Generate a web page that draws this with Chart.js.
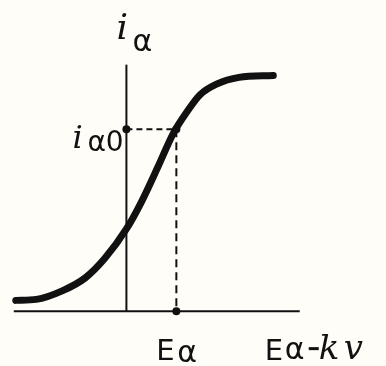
<!DOCTYPE html>
<html>
<head>
<meta charset="utf-8">
<script src="https://cdn.jsdelivr.net/npm/chart.js@4"></script>
<style>
  html, body { margin: 0; padding: 0; background: #fefdf8; }
  #wrap { width: 386px; height: 366px; position: relative; }
</style>
</head>
<body>
<div id="wrap"><canvas id="chart"></canvas></div>
<script>
// Anode current vs. grid voltage characteristic (x measured from the i axis)
const curveX = [-113, -92, -65, -42, -22, 0, 15, 32, 48, 62, 75, 92, 115, 150];
const curveY = [11, 12, 21, 34, 54, 84, 111, 147, 182, 204, 221, 232, 239, 241];

// Operating point
const opX = 51;   // E_a
const opY = 186;  // i_a0

// Axis extents
const xAxisRange = [-115, 177];
const yAxisRange = [0, 252];

const INK = '#111';

const pts = (xs, ys) => xs.map((x, i) => ({ x: x, y: ys[i] }));

// Labels drawn next to the axes
const labelsPlugin = {
    id: 'labels',
    afterDatasetsDraw(chart) {
        const ctx = chart.ctx;
        const sx = chart.scales.x, sy = chart.scales.y;
        const px = v => sx.getPixelForValue(v);
        const py = v => sy.getPixelForValue(v);
        ctx.save();
        ctx.fillStyle = INK;
        ctx.textBaseline = 'alphabetic';

        // i_a at the top of the vertical axis
        ctx.font = 'italic 36px "DejaVu Serif"';
        ctx.fillText('i', px(0) - 10, py(yAxisRange[1]) - 26);
        ctx.font = '30px "DejaVu Sans"';
        ctx.fillText('α', px(0) + 6, py(yAxisRange[1]) - 14);

        // i_a0 beside the operating level
        ctx.font = 'italic 32px "DejaVu Serif"';
        ctx.fillText('i', px(0) - 54, py(opY) + 19);
        ctx.font = '28px "DejaVu Sans"';
        ctx.fillText('α0', px(0) - 39, py(opY) + 22);

        // E_a under the operating point
        ctx.font = '29px "DejaVu Sans"';
        ctx.fillText('E', px(opX) - 20, py(0) + 49);
        ctx.font = '30px "DejaVu Sans"';
        ctx.fillText('α', px(opX) + 1, py(0) + 51);

        // E_a - kv at the end of the horizontal axis
        const ex = px(xAxisRange[1]) - 35;
        ctx.font = '29px "DejaVu Sans"';
        ctx.fillText('E', ex, py(0) + 49);
        ctx.font = '30px "DejaVu Sans"';
        ctx.fillText('α', ex + 20, py(0) + 48);
        ctx.fillRect(ex + 44, py(0) + 36, 10, 3);
        ctx.font = 'italic 34px "DejaVu Serif"';
        ctx.fillText('k', ex + 54, py(0) + 48);
        ctx.fillText('v', ex + 79, py(0) + 48);
        ctx.restore();
    }
};

new Chart(document.getElementById('chart'), {
    type: 'scatter',
    data: {
        datasets: [
            {
                // horizontal axis
                data: pts(xAxisRange, [0, 0]),
                showLine: true, borderColor: INK, borderWidth: 2, pointRadius: 0
            },
            {
                // vertical axis
                data: pts([0, 0], yAxisRange),
                showLine: true, borderColor: INK, borderWidth: 2, pointRadius: 0
            },
            {
                // dashed guide to i_a0
                data: pts([0, opX], [opY, opY]),
                showLine: true, borderColor: INK, borderWidth: 2,
                borderDash: [6, 4], pointRadius: 0
            },
            {
                // dashed guide down to E_a
                data: pts([opX, opX], [opY, 0]),
                showLine: true, borderColor: INK, borderWidth: 2,
                borderDash: [8, 5], pointRadius: 0
            },
            {
                // characteristic curve
                data: pts(curveX, curveY),
                showLine: true, borderColor: INK, borderWidth: 7,
                cubicInterpolationMode: 'monotone', pointRadius: 0,
                borderCapStyle: 'round'
            },
            {
                // marked points
                data: pts([0, opX, opX], [opY, opY, 0]),
                showLine: false, pointRadius: 4, pointBackgroundColor: INK,
                pointBorderWidth: 0
            }
        ]
    },
    options: {
        responsive: true,
        maintainAspectRatio: false,
        animation: false,
        layout: { padding: 0 },
        plugins: {
            legend: { display: false },
            tooltip: { enabled: false }
        },
        scales: {
            x: { type: 'linear', min: -125, max: 261, display: false },
            y: { type: 'linear', min: -52, max: 314, display: false }
        }
    },
    plugins: [labelsPlugin]
});
</script>
</body>
</html>
